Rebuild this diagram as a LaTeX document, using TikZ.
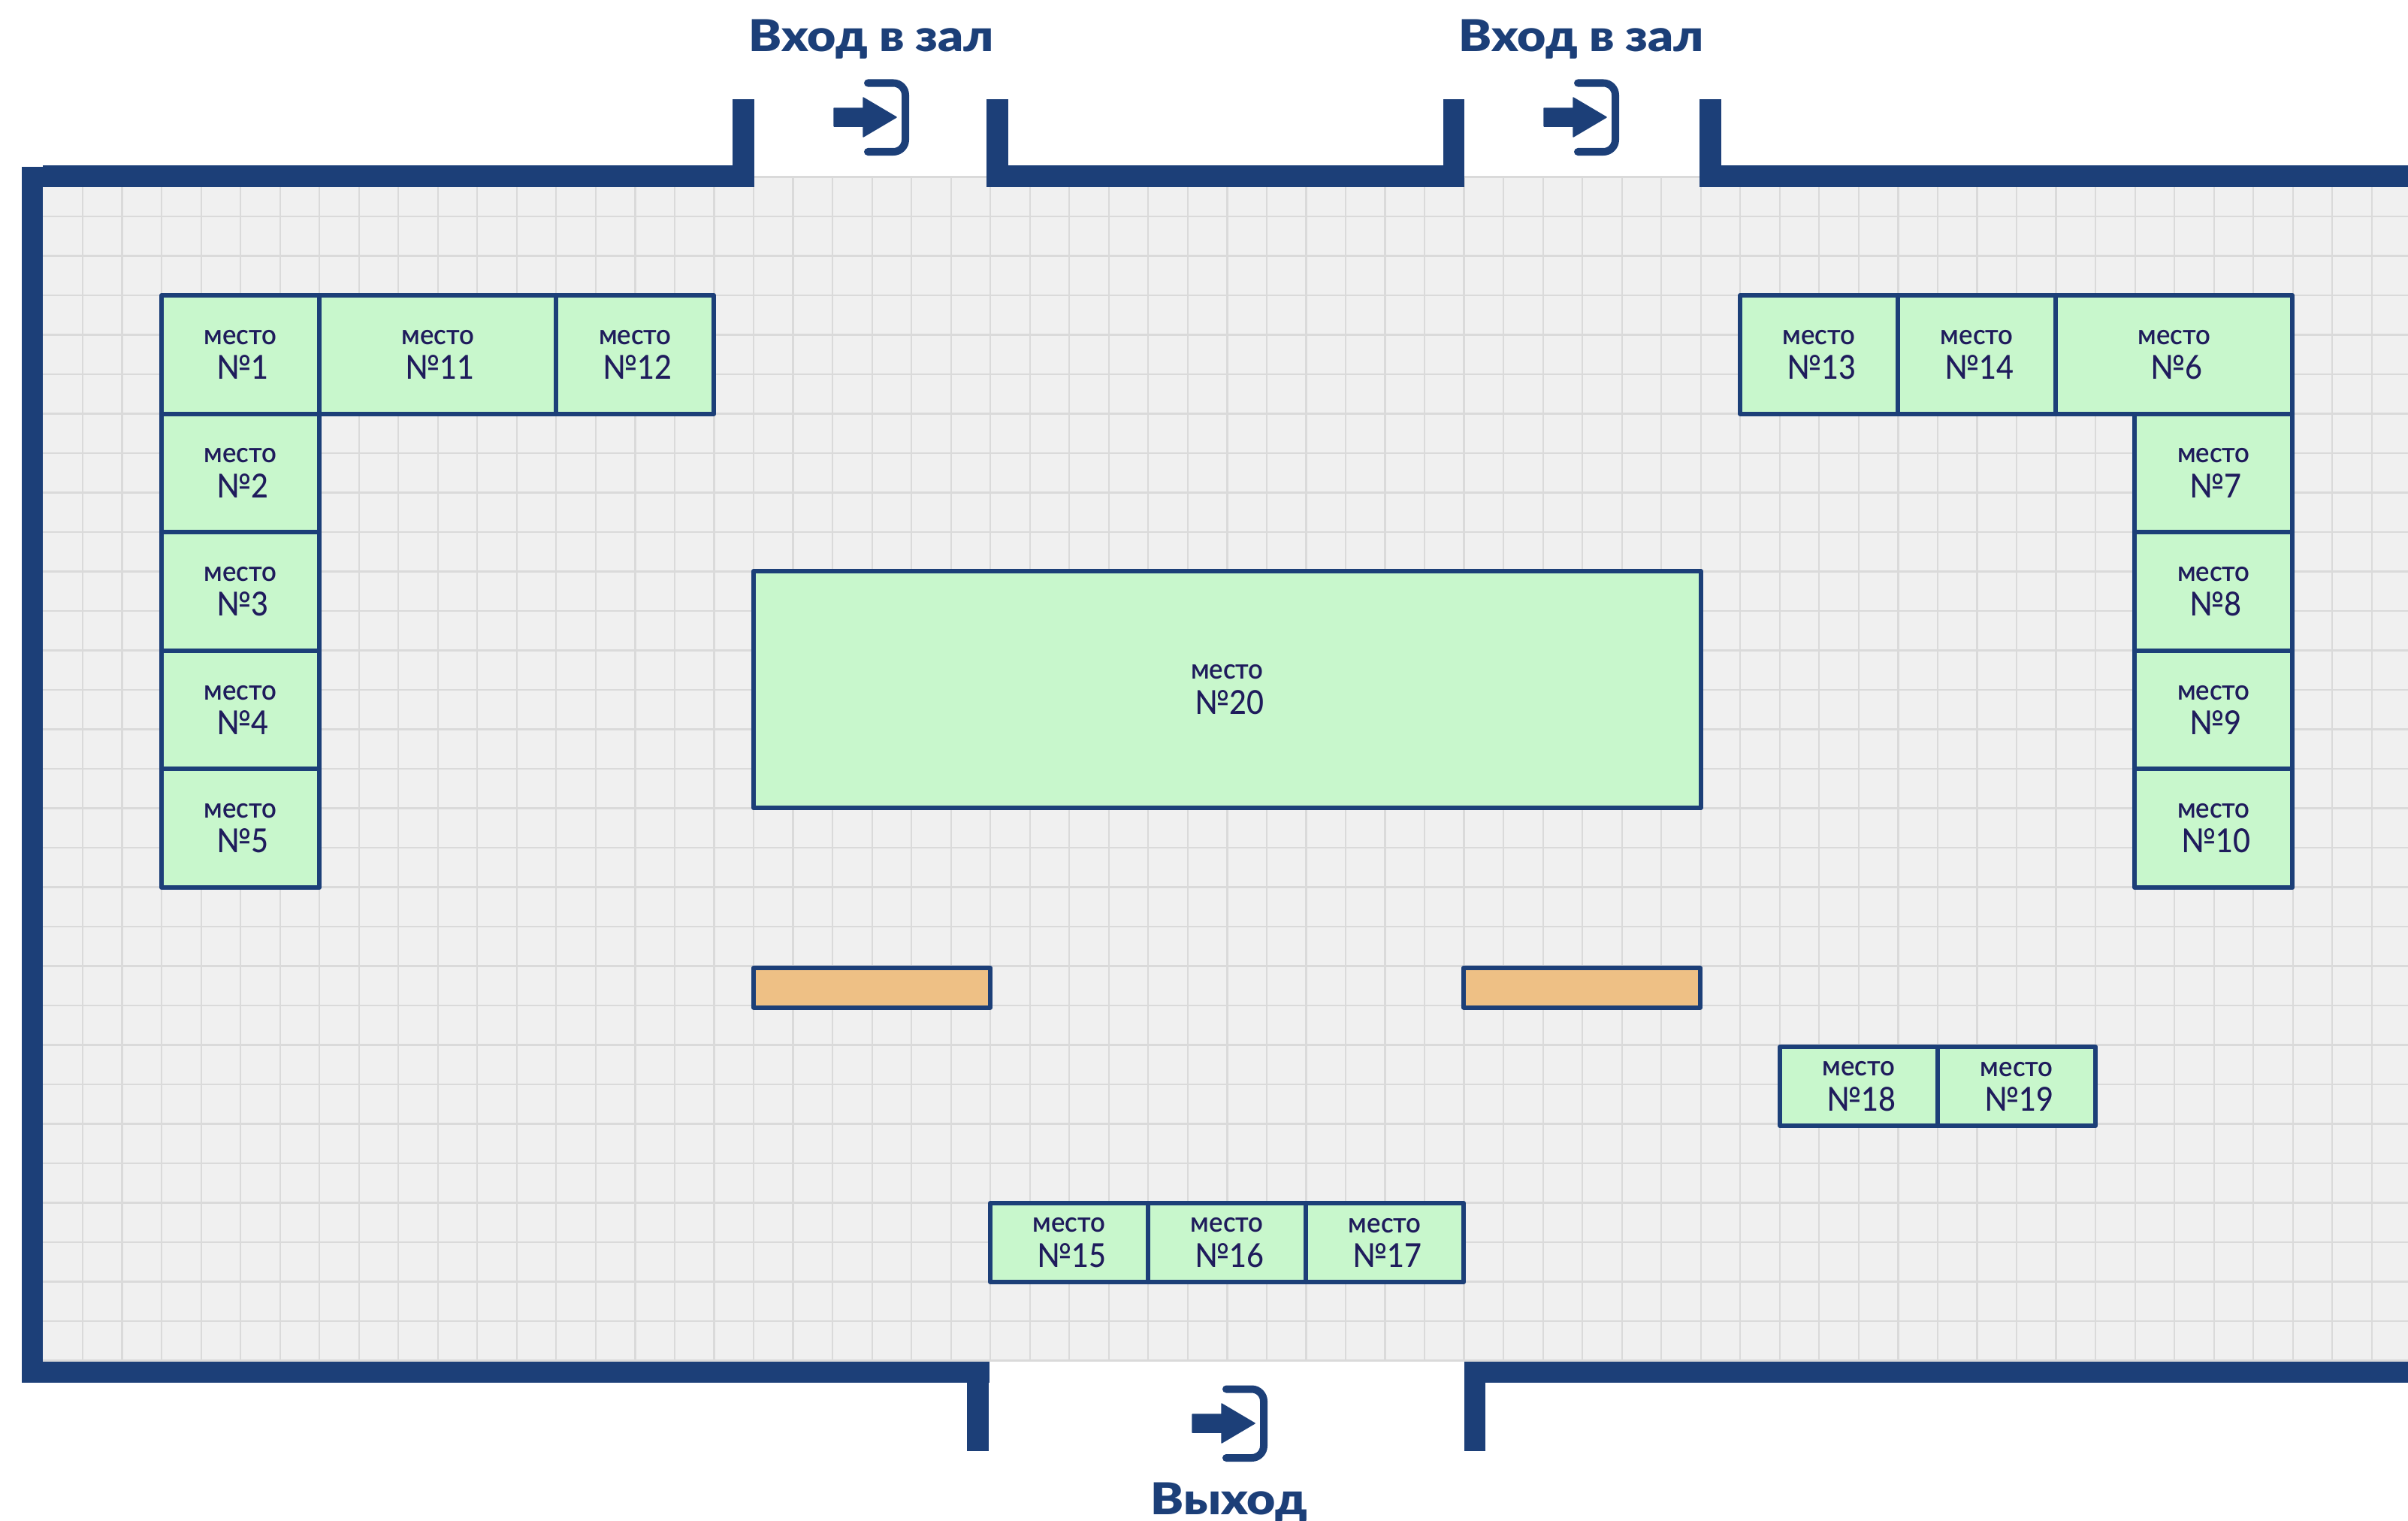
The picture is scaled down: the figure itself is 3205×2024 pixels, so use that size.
\documentclass[tikz,border=0pt]{standalone}
\usepackage{fontspec}
\setmainfont{Lato}
\newfontfamily\titlefont{Lato Black}[FakeStretch=1.13]
\newfontfamily\mestofont{Lato Semibold}[FakeStretch=0.94]
\newfontfamily\nomerfont{Lato Medium}[FakeStretch=0.9]
\usetikzlibrary{positioning}
\definecolor{wallblue}{HTML}{1C3F78}
\definecolor{seatgreen}{HTML}{C8F7CC}
\definecolor{seatink}{HTML}{1F1C5C}
\definecolor{deskorange}{HTML}{EEC085}
\definecolor{floorgray}{HTML}{F0F0F0}
\definecolor{gridgray}{HTML}{DADADA}
\newcommand{\mesto}[1]{{\mestofont\fontsize{10.5}{13}\selectfont место}\\[0.04cm]{\nomerfont\fontsize{12.5}{14}\selectfont\hspace*{0.06cm}№#1}}
\tikzset{
wall/.style={fill=wallblue},
seat/.style={draw=wallblue,fill=seatgreen,text=seatink,line width=0.06cm,line join=round,
	outer sep=0pt,inner sep=0pt,align=center,minimum width=2.1cm,minimum height=1.575cm},
wide/.style={minimum width=3.15cm},
low/.style={minimum height=1.05cm},
desk/.style={draw=wallblue,fill=deskorange,line width=0.06cm,line join=round,
	outer sep=0pt,minimum width=3.15cm,minimum height=0.525cm},
doortitle/.style={text=wallblue,anchor=base,inner sep=0pt,font=\titlefont\fontsize{16.6}{18}\selectfont},
doorsign/.pic={
	\fill[wallblue,line join=round,draw=wallblue,line width=0.015cm] (0,-12) -- (39,-12) -- (39,-26) -- (83,0) -- (39,26) -- (39,12) -- (0,12) -- cycle;
	\draw[wallblue,line width=0.1cm,line cap=round,rounded corners=0.16cm] (45,-45.5) -- (95,-45.5) -- (95,46) -- (45,46);
}
}
\begin{document}
\begin{tikzpicture}[x=0.01cm,y=-0.01cm]
\useasboundingbox (0,0) rectangle (3205,2024);
% floor with its squares
\fill[floorgray] (57,235) rectangle (3205,1812);
\foreach \k in {1,...,59}
	\draw[gridgray,line width=0.022cm] ({57.5+52.53*\k},235) -- ({57.5+52.53*\k},1812);
\foreach \k in {0,...,30}
	\draw[gridgray,line width=0.025cm] (57,{235.5+52.5*\k}) -- (3205,{235.5+52.5*\k});
% walls
\fill[wall] (29,222) rectangle (57,1840);
\fill[wall] (57,220) rectangle (1004,249);
\fill[wall] (1313,220) rectangle (1949,249);
\fill[wall] (2262,220) rectangle (3205,249);
\fill[wall] (29,1812) rectangle (1317,1840);
\fill[wall] (1949,1812) rectangle (3205,1840);
\fill[wall] (975,132) rectangle (1004,249);
\fill[wall] (1313,132) rectangle (1342,249);
\fill[wall] (1921,132) rectangle (1949,249);
\fill[wall] (2262,132) rectangle (2291,249);
\fill[wall] (1287,1840) rectangle (1316,1931);
\fill[wall] (1949,1840) rectangle (1977,1931);
% left corner
\node[seat,anchor=north west] (s1) at (215,393) {\mesto{1}};
\node[seat,below=0pt of s1] (s2) {\mesto{2}};
\node[seat,below=0pt of s2] (s3) {\mesto{3}};
\node[seat,below=0pt of s3] (s4) {\mesto{4}};
\node[seat,below=0pt of s4] (s5) {\mesto{5}};
\node[seat,wide,right=0pt of s1] (s11) {\mesto{11}};
\node[seat,right=0pt of s11] (s12) {\mesto{12}};
% right corner
\node[seat,anchor=north west] (s13) at (2316,393) {\mesto{13}};
\node[seat,right=0pt of s13] (s14) {\mesto{14}};
\node[seat,wide,right=0pt of s14] (s6) {\mesto{6}};
\node[seat,anchor=north east] (s7) at (s6.south east) {\mesto{7}};
\node[seat,below=0pt of s7] (s8) {\mesto{8}};
\node[seat,below=0pt of s8] (s9) {\mesto{9}};
\node[seat,below=0pt of s9] (s10) {\mesto{10}};
% middle
\node[seat,anchor=north west,minimum width=12.6cm,minimum height=3.15cm] (s20) at (1003,760) {\mesto{20}};
\node[desk,anchor=north west] (desk1) at (1003,1288) {};
\node[desk,anchor=north west] (desk2) at (1948,1288) {};
\node[seat,low,anchor=north west] (s18) at (2369,1393) {\mesto{18}};
\node[seat,low,right=0pt of s18] (s19) {\mesto{19}};
\node[seat,low,anchor=north west] (s15) at (1318,1601) {\mesto{15}};
\node[seat,low,right=0pt of s15] (s16) {\mesto{16}};
\node[seat,low,right=0pt of s16] (s17) {\mesto{17}};
% doors
\node[doortitle] (entry1) at (1160,68) {Вход в зал};
\node[doortitle] (entry2) at (2105,68) {Вход в зал};
\node[doortitle] (exit) at (1636,2015) {Выход};
\pic at (1110,156) {doorsign};
\pic at (2055,156) {doorsign};
\pic at (1587,1894) {doorsign};
\end{tikzpicture}
\end{document}
